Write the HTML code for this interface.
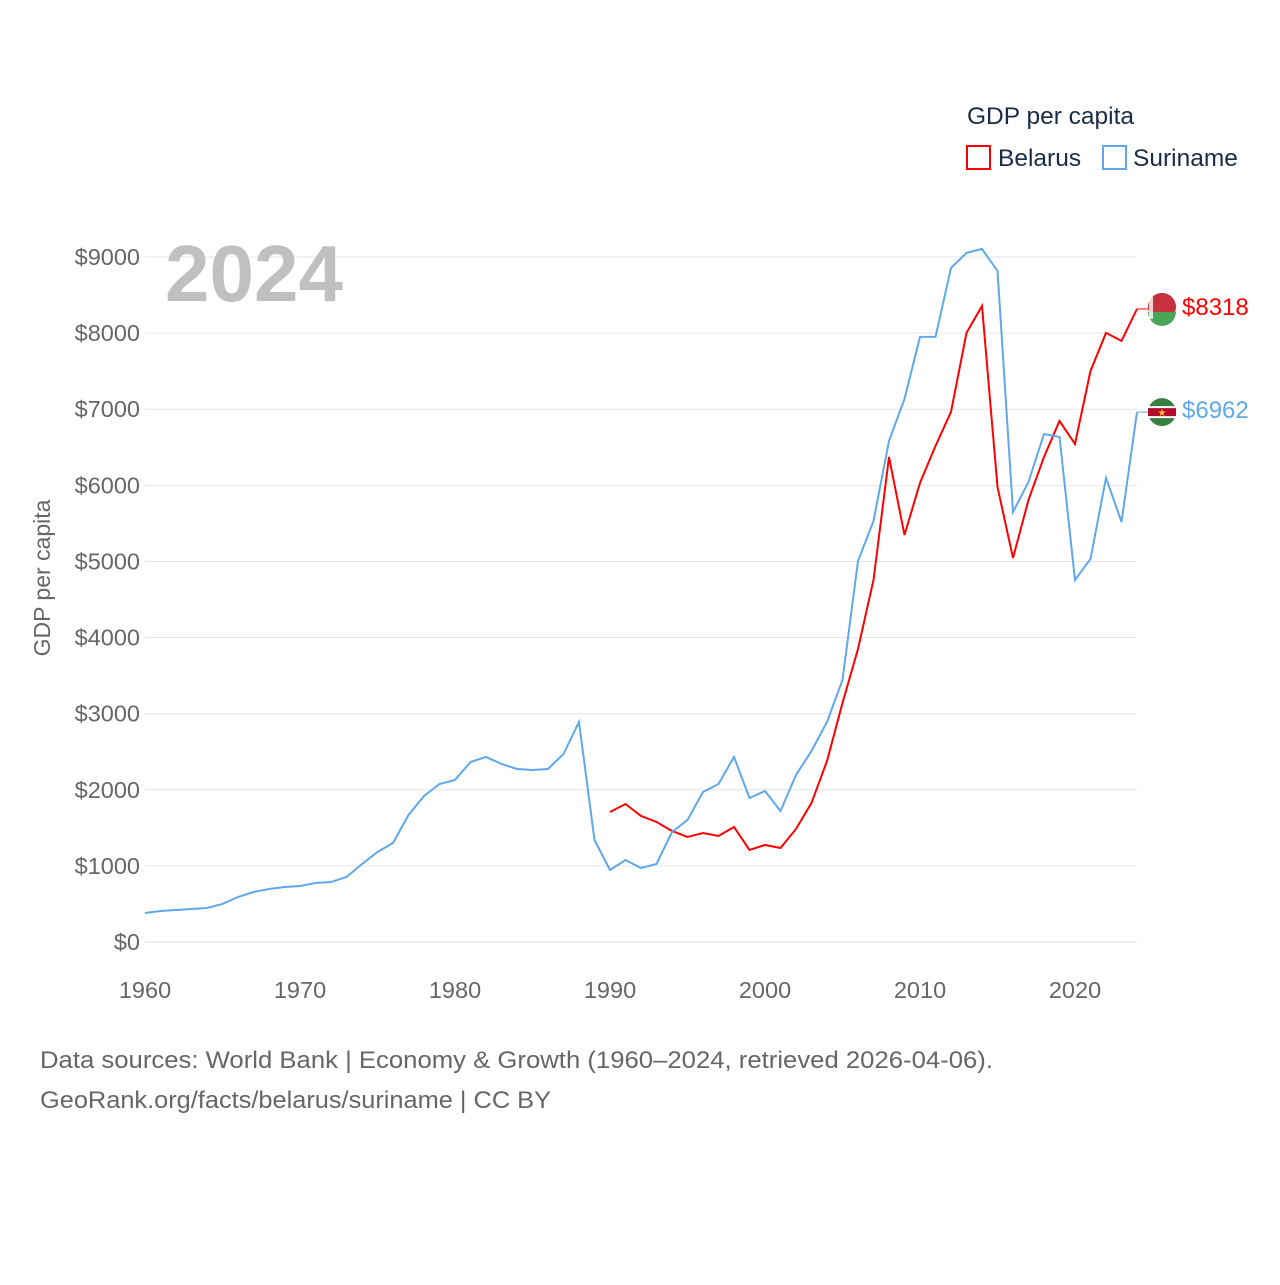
<!DOCTYPE html>
<html><head><meta charset="utf-8"><style>
body{margin:0;background:#fff;font-family:"Liberation Sans",sans-serif}
</style></head><body>
<svg id="chart" width="1280" height="1280" xmlns="http://www.w3.org/2000/svg">
<g id="grid"></g>
<g id="axes"></g>
<text x="165" y="301" font-size="80" font-weight="bold" fill="#c0c0c0">2024</text>
<text transform="translate(50,578) rotate(-90)" text-anchor="middle" font-size="23" fill="#666">GDP per capita</text>
<text x="967" y="124" font-size="24.5" fill="#1a2b48">GDP per capita</text>
<g><rect x="967" y="146" width="23" height="23" fill="none" stroke="red" stroke-width="2"/><text x="998" y="166" font-size="24.5" fill="#1a2b48">Belarus</text></g>
<g><rect x="1103" y="146" width="23" height="23" fill="none" stroke="#5fa8ec" stroke-width="2"/><text x="1133" y="166" font-size="24.5" fill="#1a2b48">Suriname</text></g>
<g id="series"></g>
<text x="40" y="1068" font-size="24" fill="#666" textLength="953" lengthAdjust="spacingAndGlyphs">Data sources: World Bank | Economy &amp; Growth (1960–2024, retrieved 2026-04-06).</text>
<text x="40" y="1108" font-size="24" fill="#666" textLength="511" lengthAdjust="spacingAndGlyphs">GeoRank.org/facts/belarus/suriname | CC BY</text>
</svg>
<script>
const years=[];for(let y=1960;y<=2024;y++)years.push(y);
const suriname=[381,407,420,433,447,500,591,657,696,723,736,775,788,854,1025,1183,1301,1669,1918,2076,2129,2365,2431,2339,2273,2260,2273,2470,2891,1340,946,1077,972,1025,1445,1603,1971,2076,2431,1892,1984,1721,2194,2510,2891,3443,5006,5532,6583,7135,7950,7950,8857,9054,9106,8817,5650,6045,6675,6636,4757,5033,6097,5519,6962];
const belarusYears=[];for(let y=1990;y<=2024;y++)belarusYears.push(y);
const belarus=[1708,1813,1656,1577,1459,1380,1432,1393,1511,1209,1275,1235,1485,1827,2378,3141,3850,4757,6373,5348,6032,6518,6965,8003,8357,5979,5046,5808,6373,6846,6544,7503,8003,7898,8318];
const yTicks=[0,1000,2000,3000,4000,5000,6000,7000,8000,9000];
const xTicks=[1960,1970,1980,1990,2000,2010,2020];
const NS='http://www.w3.org/2000/svg';
const X=y=>145+(y-1960)*15.5;
const Y=v=>942-v*0.07611;
function mk(t,a,p){const e=document.createElementNS(NS,t);for(const k in a)e.setAttribute(k,a[k]);p.appendChild(e);return e;}
const grid=document.getElementById('grid'),axes=document.getElementById('axes'),ser=document.getElementById('series');
yTicks.forEach(v=>{
 const l=mk('line',{x1:145,x2:1137,y1:Y(v),y2:Y(v),stroke:v?'#e6e6e6':'#ddd','stroke-width':1},grid);
 
 
 const t=mk('text',{x:140,y:Y(v)+8,'text-anchor':'end','font-size':23.5,fill:'#666'},axes);
 t.textContent='$'+v;
 
 
});
xTicks.forEach(y=>{
 const t=mk('text',{x:X(y),y:998,'text-anchor':'middle','font-size':23.5,fill:'#666'},axes);
 t.textContent=y;
 
 
});
function line(ys,vals,color,name){
 const d=ys.map((y,i)=>(i?'L':'M')+X(y)+','+Y(vals[i])).join(' ');
 const p=mk('path',{d:d,fill:'none',stroke:color,'stroke-width':2},ser);
 
 
 const last=vals[vals.length-1],ly=Y(last);
 mk('line',{x1:X(2024),x2:1150,y1:ly,y2:ly,stroke:color,'stroke-width':1},ser);
 const lb=mk('text',{x:1182,y:ly+6,'font-size':24,fill:color},ser);
 lb.textContent='$'+last;
 
 
 return ly;
}
const by=line(belarusYears,belarus,'#ff0000','belarus');
const sy=line(years,suriname,'#5fa8ec','suriname');
const fb=mk('g',{},ser);


mk('circle',{cx:1162,cy:by-2,r:14,fill:'#c8313e'},fb);
mk('path',{d:`M1148,${by+3} h28 a14,14 0 0 1 -28,0z`,fill:'#4aa657'},fb);
mk('rect',{x:1149,y:by-12,width:4,height:22,fill:'#fff',opacity:0.8},fb);
const fs=mk('g',{},ser);


mk('circle',{cx:1162,cy:sy,r:14,fill:'#377e3f'},fs);
mk('rect',{x:1148,y:sy-6,width:28,height:12,fill:'#fff'},fs);
mk('rect',{x:1148,y:sy-4,width:28,height:8,fill:'#b40a2d'},fs);
const st=mk('text',{x:1162,y:sy+4,'text-anchor':'middle','font-size':10,fill:'#ecc81d'},fs);st.textContent='★';
</script>
</body></html>
